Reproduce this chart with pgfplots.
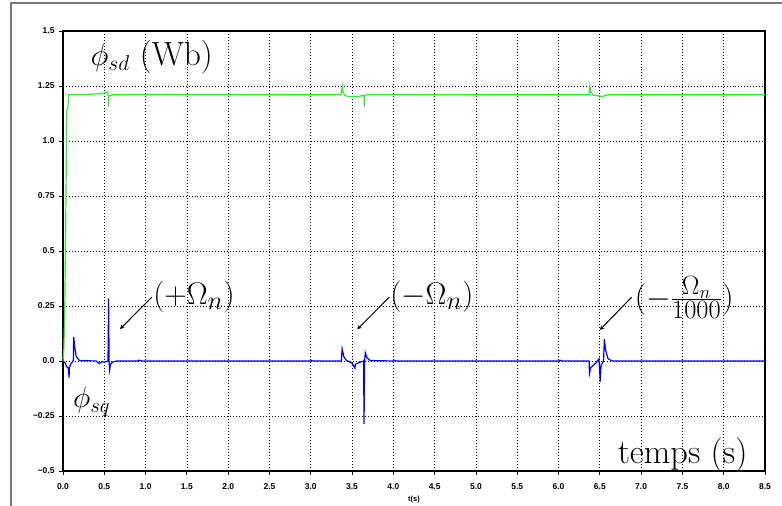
\documentclass[border=0pt]{standalone}
\usepackage{pgfplots}
\pgfplotsset{compat=1.18}
\usepackage{fontspec}
\newfontfamily\lsans{Liberation Sans}
\definecolor{sdgreen}{RGB}{50,235,50}
\definecolor{framegray}{RGB}{120,120,120}
\begin{document}
\begin{tikzpicture}[x=1bp,y=1bp]
\path[use as bounding box] (0,0) rectangle (782,506);
\draw[framegray,line width=1.2bp] (11,0) -- (11,503) -- (782,503);
\begin{axis}[
  at={(63bp,35bp)}, anchor=south west,
  scale only axis, width=702bp, height=440bp,
  xmin=0, xmax=8.5, ymin=-0.5, ymax=1.5,
  axis line style={line width=1.1pt},
  xtick={0,0.5,...,8.5},
  xticklabels={0.0,0.5,1.0,1.5,2.0,2.5,3.0,3.5,4.0,4.5,5.0,5.5,6.0,6.5,7.0,7.5,8.0,8.5},
  ytick={-0.5,-0.25,0,0.25,0.5,0.75,1,1.25,1.5},
  yticklabels={−0.5,−0.25,0.0,0.25,0.5,0.75,1.0,1.25,1.5},
  tick align=outside, tick pos=left,
  major tick length=4bp,
  tick style={black, line width=0.8pt},
  ticklabel style={font=\lsans\bfseries\fontsize{8.5}{10}\selectfont},
  yticklabel style={xshift=-1bp},
  xticklabel style={yshift=-5bp},
  grid=major,
  major grid style={black, line width=0.7pt, dash pattern=on 1pt off 2pt},
  xlabel={t(s)},
  xlabel style={font=\lsans\bfseries\fontsize{7.5}{9}\selectfont, at={(axis description cs:0.5,0)}, anchor=center, yshift=-29bp},
  clip=false,
]
\addplot[sdgreen, line width=1.2pt] coordinates {
(0,0) (0.01,0.05) (0.02,0.2) (0.03,0.5) (0.04,0.9) (0.045,1.14) (0.06,1.15) (0.07,1.21) (0.1,1.212) (0.3,1.212) (0.45,1.215) (0.53,1.22) (0.54,1.222) (0.545,1.21) (0.55,1.205) (0.552,1.156) (0.556,1.205) (0.6,1.21) (1.0,1.212) (2.0,1.211) (3.37,1.21) (3.38,1.251) (3.39,1.225) (3.41,1.208) (3.45,1.202) (3.5,1.202) (3.6,1.203) (3.61,1.206) (3.645,1.207) (3.648,1.156) (3.655,1.207) (3.7,1.211) (4.0,1.211) (6.37,1.21) (6.38,1.25) (6.39,1.222) (6.42,1.208) (6.5,1.205) (6.52,1.2) (6.56,1.206) (6.6,1.21) (8.5,1.21)
};
\addplot[blue, line width=1.2pt] coordinates {
(0,0) (0.03,-0.01) (0.045,-0.026) (0.06,-0.03) (0.068,-0.045) (0.073,-0.076) (0.078,-0.03) (0.1,-0.01) (0.125,0) (0.13,0.11) (0.14,0.07) (0.16,0.02) (0.2,0.002) (0.4,0) (0.44,-0.012) (0.47,-0.003) (0.5,-0.005) (0.545,0) (0.552,0.285) (0.558,0.0) (0.565,-0.04) (0.575,-0.015) (0.6,-0.005) (0.65,0) (0.9,0) (0.92,0.004) (0.95,0) (3.0,0) (3.01,0.003) (3.03,0) (3.37,0) (3.38,0.055) (3.4,0.02) (3.43,0.003) (3.5,-0.01) (3.535,-0.033) (3.54,-0.015) (3.6,-0.005) (3.64,0) (3.645,-0.286) (3.652,0) (3.66,0.038) (3.68,0.015) (3.72,0.002) (4.0,0) (4.01,0.003) (4.03,0) (6.0,0) (6.02,0.003) (6.04,0) (6.37,0) (6.375,-0.056) (6.39,-0.03) (6.45,-0.01) (6.49,0.01) (6.505,-0.094) (6.515,-0.02) (6.545,0) (6.555,0.099) (6.57,0.05) (6.6,0.01) (6.65,0) (8.5,0)
};
\node[anchor=west, inner sep=0pt, scale=1.245, font=\fontsize{27}{30}\selectfont] at (axis cs:0.33,1.38) {$\phi_{sd}$ (Wb)};
\node[anchor=west, inner sep=0pt, scale=1.2, font=\fontsize{27}{30}\selectfont] at (axis cs:0.12,-0.185) {$\phi_{sq}$};
\node[anchor=east, inner sep=0pt, scale=1.19, font=\fontsize{29}{32}\selectfont] at (axis cs:8.29,-0.425) {temps (s)};
\node[anchor=west, inner sep=0pt, scale=1.26, font=\fontsize{28}{30}\selectfont] at (axis cs:1.09,0.29) {$(+\Omega_n)$};
\node[anchor=west, inner sep=0pt, scale=1.26, font=\fontsize{28}{30}\selectfont] at (axis cs:3.96,0.29) {$(-\Omega_n)$};
\node[anchor=west, inner sep=0pt, scale=1.28, font=\fontsize{28}{30}\selectfont] at (axis cs:6.92,0.29) {$(-\frac{\Omega_n}{1000})$};
\draw[-stealth, line width=1pt] (axis cs:1.075,0.29) -- (axis cs:0.69,0.145);
\draw[-stealth, line width=1pt] (axis cs:3.95,0.29) -- (axis cs:3.563,0.144);
\draw[-stealth, line width=1pt] (axis cs:6.885,0.29) -- (axis cs:6.50,0.141);
\end{axis}
\end{tikzpicture}
\end{document}
